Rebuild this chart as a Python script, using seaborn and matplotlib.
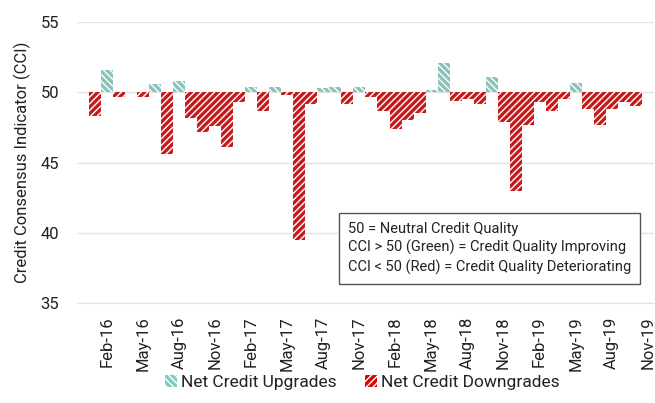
import numpy as np
import matplotlib
matplotlib.use("Agg")
import matplotlib.pyplot as plt
from matplotlib.patches import Patch
import seaborn as sns
import pandas as pd

# monthly CCI readings, Jan-16 .. Oct-19
months = pd.date_range("2016-01-01", periods=46, freq="MS")
cci = [48.3, 51.6, 49.7, 50.0, 49.7, 50.6, 45.6, 50.8, 48.2, 47.2,
       47.6, 46.1, 49.3, 50.4, 48.7, 50.4, 49.8, 39.5, 49.2, 50.3,
       50.4, 49.2, 50.4, 49.7, 48.7, 47.4, 48.0, 48.5, 50.2, 52.1,
       49.4, 49.5, 49.2, 51.1, 47.9, 43.0, 47.7, 49.3, 48.7, 49.5,
       50.7, 48.8, 47.7, 48.8, 49.3, 49.0]
neutral = 50
series_names = ["Net Credit Upgrades", "Net Credit Downgrades"]
series_colors = ["#7fcbbf", "#e00000"]
series_hatch = ["\\" * 5, "/" * 5]
tick_labels = [d.strftime("%b-%y") for d in pd.date_range("2016-02-01", periods=16, freq="3MS")]
note = ("50 = Neutral Credit Quality\n"
        "CCI > 50 (Green) = Credit Quality Improving\n"
        "CCI < 50 (Red) = Credit Quality Deteriorating")

df = pd.DataFrame({
    "month": months.strftime("%b-%y"),
    "delta": np.array(cci) - neutral,
})
df["kind"] = np.where(df["delta"] > 0, series_names[0], series_names[1])

sns.set_style("white")
plt.rcParams["font.family"] = ["Roboto", "DejaVu Sans"]
plt.rcParams["hatch.linewidth"] = 1.0

fig = plt.figure(figsize=(6.55, 4.03), dpi=100)
ax = fig.add_axes([0.118, 0.248, 0.88, 0.697])

sns.barplot(data=df, x="month", y="delta", hue="kind", hue_order=series_names,
            palette=series_colors, width=1.0, dodge=False, bottom=neutral,
            linewidth=0, legend=False, ax=ax)

# hatch every bar by direction
for p in ax.patches:
    up = p.get_height() > 0
    p.set_edgecolor("white")
    p.set_hatch(series_hatch[0] if up else series_hatch[1])
    p.set_linewidth(0)

ax.set_ylim(35, 55)
ax.set_yticks([35, 40, 45, 50, 55])
ax.set_xlim(-1.5, 46.5)
ax.set_xticks(np.arange(1, 47, 3))
ax.set_xticklabels(tick_labels, rotation=90)
ax.grid(axis="y", color="#e3e3e3", linewidth=1)
ax.set_axisbelow(True)
for s in ["top", "right", "left"]:
    ax.spines[s].set_visible(False)
ax.spines["bottom"].set_color("#e3e3e3")
ax.tick_params(axis="x", direction="inout", length=7, color="#d0d0d0",
               labelsize=12, labelcolor="#222222", pad=6)
ax.tick_params(axis="y", length=0, labelsize=12, labelcolor="#222222", pad=13)
ax.set_xlabel("")
ax.set_ylabel("Credit Consensus Indicator (CCI)", fontsize=12, color="#222222", labelpad=7)

ax.text(0.469, 0.195, note, transform=ax.transAxes, fontsize=10.5, va="center", ha="left",
        linespacing=1.35, color="#222222",
        bbox=dict(boxstyle="square,pad=0.6", facecolor="white", edgecolor="#555555", linewidth=1))

handles = [Patch(facecolor=c, edgecolor="white", hatch=h, linewidth=0)
           for c, h in zip(series_colors, series_hatch)]
fig.legend(handles, series_names, loc="center", bbox_to_anchor=(0.553, 0.05), ncol=2,
           frameon=False, fontsize=12.5, handlelength=0.7, handleheight=0.7,
           handletextpad=0.25, columnspacing=1.6, labelcolor="#222222")

fig.savefig("out.png", dpi=100)
